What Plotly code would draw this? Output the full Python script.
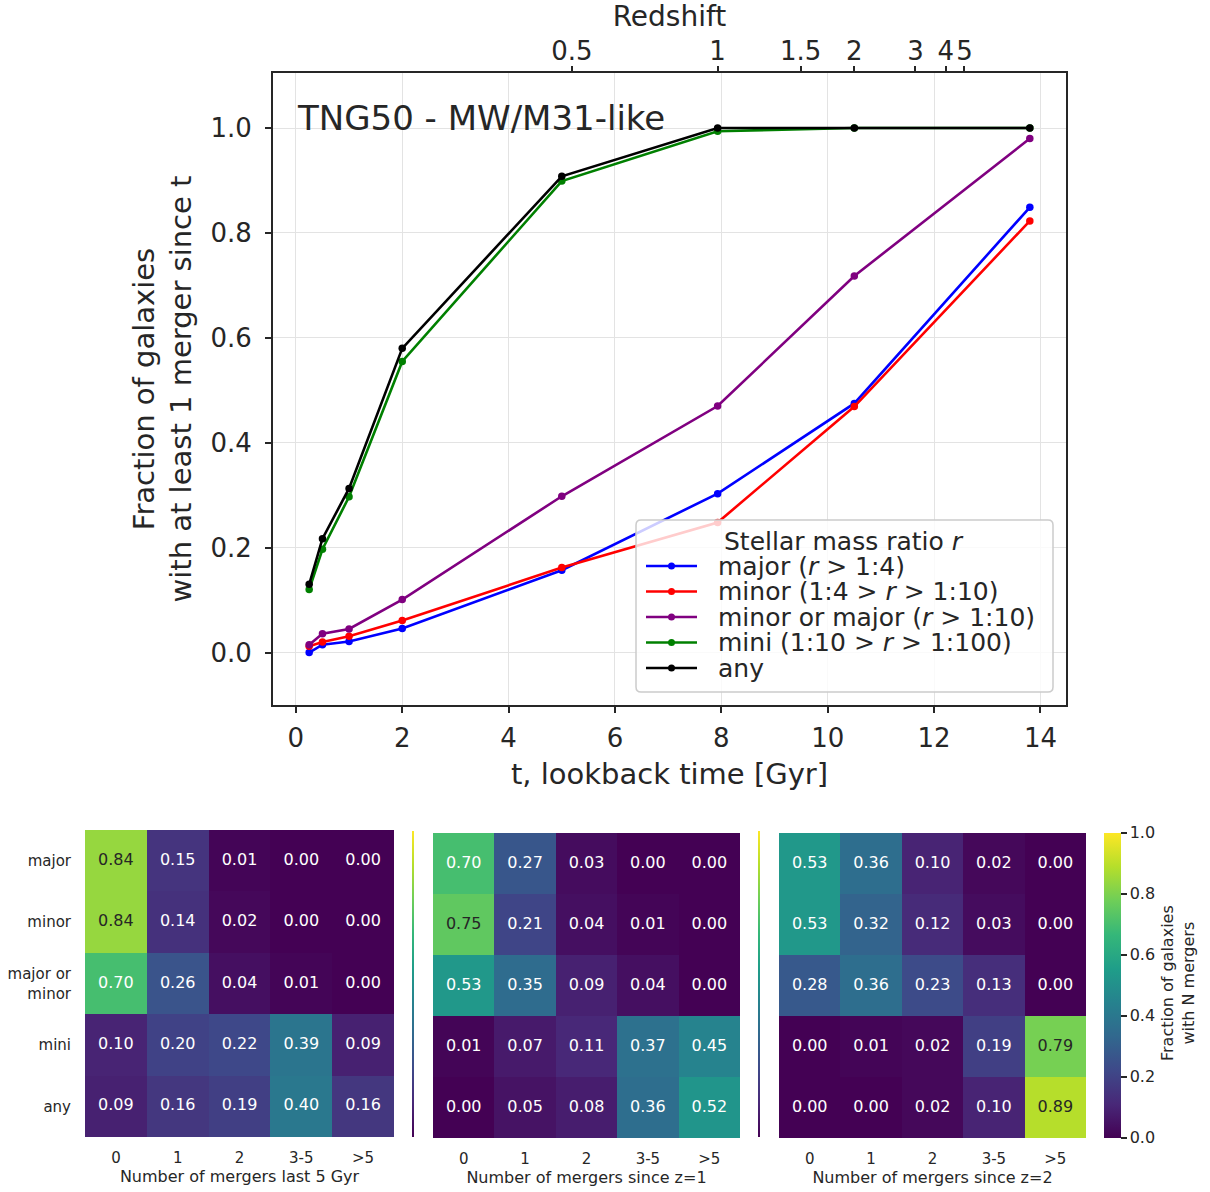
import plotly.graph_objects as go

# ---------------- data ----------------
lookback_t = [0.25, 0.5, 1.0, 2.0, 5.0, 7.93, 10.5, 13.8]
series_names = ["major (<i>r</i> > 1:4)", "minor (1:4 > <i>r</i> > 1:10)",
                "minor or major (<i>r</i> > 1:10)", "mini (1:10 > <i>r</i> > 1:100)", "any"]
series_colors = ["#0000ff", "#ff0000", "#800080", "#008000", "#000000"]
frac_major = [0.0, 0.015, 0.021, 0.046, 0.157, 0.303, 0.475, 0.849]
frac_minor = [0.012, 0.020, 0.031, 0.061, 0.162, 0.248, 0.469, 0.823]
frac_minor_or_major = [0.015, 0.036, 0.045, 0.101, 0.298, 0.470, 0.718, 0.980]
frac_mini = [0.120, 0.197, 0.297, 0.555, 0.899, 0.994, 1.0, 1.0]
frac_any = [0.130, 0.217, 0.313, 0.580, 0.908, 1.0, 1.0, 1.0]
series_values = [frac_major, frac_minor, frac_minor_or_major, frac_mini, frac_any]

redshift_ticks = ["0.5", "1", "1.5", "2", "3", "4", "5"]
redshift_tick_t = [5.19, 7.93, 9.49, 10.50, 11.65, 12.22, 12.57]

row_labels = ["major", "minor", "major or<br>minor", "mini", "any"]
col_labels = ["0", "1", "2", "3-5", ">5"]
heat_last5 = [[0.84, 0.15, 0.01, 0.00, 0.00],
              [0.84, 0.14, 0.02, 0.00, 0.00],
              [0.70, 0.26, 0.04, 0.01, 0.00],
              [0.10, 0.20, 0.22, 0.39, 0.09],
              [0.09, 0.16, 0.19, 0.40, 0.16]]
heat_z1 = [[0.70, 0.27, 0.03, 0.00, 0.00],
           [0.75, 0.21, 0.04, 0.01, 0.00],
           [0.53, 0.35, 0.09, 0.04, 0.00],
           [0.01, 0.07, 0.11, 0.37, 0.45],
           [0.00, 0.05, 0.08, 0.36, 0.52]]
heat_z2 = [[0.53, 0.36, 0.10, 0.02, 0.00],
           [0.53, 0.32, 0.12, 0.03, 0.00],
           [0.28, 0.36, 0.23, 0.13, 0.00],
           [0.00, 0.01, 0.02, 0.19, 0.79],
           [0.00, 0.00, 0.02, 0.10, 0.89]]
heat_titles = ["Number of mergers last 5 Gyr", "Number of mergers since z=1",
               "Number of mergers since z=2"]

# ---------------- helpers ----------------
W, H = 1210, 1192
FONT = "DejaVu Sans"
TXT = "#262626"


def px(x):
    return x / W


def py(y):
    return 1 - y / H


fig = go.Figure()

# top line plot
for name, vals, col in zip(series_names, series_values, series_colors):
    fig.add_trace(go.Scatter(x=lookback_t, y=vals, mode="lines+markers", name=name,
                             line=dict(color=col, width=2.6),
                             marker=dict(color=col, size=7.5),
                             xaxis="x", yaxis="y", showlegend=False))
# invisible trace to activate the redshift axis
fig.add_trace(go.Scatter(x=redshift_tick_t, y=[None] * len(redshift_tick_t),
                         xaxis="x2", yaxis="y", showlegend=False, hoverinfo="skip"))

# heatmaps
heat_data = [heat_last5, heat_z1, heat_z2]
heat_dom_x = [(85, 394), (433, 740), (779, 1086)]
heat_dom_y = [(830, 1137), (833, 1138), (833, 1138)]
cbar_x = [411.5, 757.5, 1104]
idx = list(range(5))
for k, z in enumerate(heat_data):
    ax = str(k + 3)
    if k == 2:
        cb = dict(x=px(1104), xanchor="left", xref="paper", y=py(985), yanchor="middle",
                  len=305 / H, lenmode="fraction", thickness=17, outlinewidth=0,
                  ticks="outside", ticklen=6, tickwidth=1.5, tickcolor=TXT,
                  tickvals=[0, 0.2, 0.4, 0.6, 0.8, 1.0], tickformat=".1f",
                  tickfont=dict(size=16, color=TXT, family=FONT), xpad=0, ypad=0)
    else:
        cb = dict(x=px(cbar_x[k]), xanchor="left", xref="paper", y=py(984), yanchor="middle",
                  len=306 / H, lenmode="fraction", thickness=1.5, outlinewidth=0,
                  ticks="", showticklabels=False, xpad=0, ypad=0)
    fig.add_trace(go.Heatmap(z=z, x=idx, y=idx, colorscale="Viridis", zmin=0, zmax=1,
                             xaxis="x" + ax, yaxis="y" + ax, colorbar=cb, showscale=True,
                             hoverinfo="skip"))
    tx, ty, tt, tc = [], [], [], []
    for r in range(5):
        for c in range(5):
            v = z[r][c]
            tx.append(c)
            ty.append(r)
            tt.append(f"{v:.2f}")
            tc.append(TXT if v > 0.72 else "white")
    fig.add_trace(go.Scatter(x=tx, y=ty, text=tt, mode="text",
                             textfont=dict(size=16, color=tc, family=FONT),
                             xaxis="x" + ax, yaxis="y" + ax, showlegend=False,
                             hoverinfo="skip"))

layout = dict(
    width=W, height=H, margin=dict(l=0, r=0, t=0, b=0),
    paper_bgcolor="white", plot_bgcolor="white",
    font=dict(family=FONT, color=TXT),
    showlegend=False,
    xaxis=dict(domain=[px(273), px(1066)], anchor="y", range=[-0.43, 14.48],
               tickvals=[0, 2, 4, 6, 8, 10, 12, 14], ticks="outside", ticklen=6,
               tickwidth=1.5, tickcolor=TXT, tickfont=dict(size=26, color=TXT),
               showline=True, linecolor=TXT, linewidth=2, mirror=True,
               showgrid=True, gridcolor="#e3e3e3", gridwidth=1, zeroline=False,
               ticklabelstandoff=3, automargin=False,
               title=dict(text="t, lookback time [Gyr]", font=dict(size=29, color=TXT),
                          standoff=11)),
    xaxis2=dict(overlaying="x", side="top", anchor="y", range=[-0.43, 14.48],
                tickvals=redshift_tick_t, ticktext=redshift_ticks, ticks="outside",
                ticklen=6, tickwidth=1.5, tickcolor=TXT,
                tickfont=dict(size=26, color=TXT), showgrid=False, showline=False,
                zeroline=False, automargin=False, ticklabelstandoff=-4,
                title=dict(text="Redshift", font=dict(size=28, color=TXT), standoff=14)),
    yaxis=dict(domain=[py(705), py(73)], anchor="x", range=[-0.1, 1.105],
               tickvals=[0, 0.2, 0.4, 0.6, 0.8, 1.0], tickformat=".1f",
               ticks="outside", ticklen=6, tickwidth=1.5, tickcolor=TXT,
               tickfont=dict(size=26, color=TXT), showline=True, linecolor=TXT,
               linewidth=2, mirror=True, showgrid=True, gridcolor="#e3e3e3",
               gridwidth=1, zeroline=False, automargin=False, ticklabelstandoff=8,
               title=dict(text="Fraction of galaxies<br>with at least 1 merger since t",
                          font=dict(size=29, color=TXT), standoff=10)),
)
for k in range(3):
    ax = str(k + 3)
    x0, x1 = heat_dom_x[k]
    y0, y1 = heat_dom_y[k]
    layout["xaxis" + ax] = dict(domain=[px(x0), px(x1)], anchor="y" + ax,
                                range=[-0.5, 4.5], tickvals=idx, ticktext=col_labels,
                                ticks="", showgrid=False, zeroline=False, showline=False,
                                tickfont=dict(size=15, color=TXT), automargin=False,
                                ticklabelstandoff=10,
                                title=dict(text=heat_titles[k],
                                           font=dict(size=16, color=TXT), standoff=2))
    layout["yaxis" + ax] = dict(domain=[py(y1), py(y0)], anchor="x" + ax,
                                range=[4.5, -0.5], tickvals=idx,
                                ticktext=row_labels if k == 0 else [""] * 5,
                                showticklabels=(k == 0),
                                ticks="", showgrid=False, zeroline=False, showline=False,
                                tickfont=dict(size=15, color=TXT), automargin=False,
                                ticklabelstandoff=13)
fig.update_layout(**layout)

# title annotation
annotations = [dict(text="TNG50 - MW/M31-like", x=px(295), y=py(118), xref="paper",
                    yref="paper", xanchor="left", yanchor="middle", showarrow=False,
                    font=dict(size=34, color=TXT))]
# colorbar title
annotations.append(dict(text="Fraction of galaxies<br>with N mergers", x=px(1178),
                        y=py(983), xref="paper", yref="paper", textangle=-90,
                        xanchor="center", yanchor="middle", showarrow=False,
                        font=dict(size=16, color=TXT)))

# manual legend (matplotlib style)
shapes = []
bx0, bx1, by0, by1, rr = 636, 1053, 520, 692, 5
path = (f"M {px(bx0 + rr)},{py(by0)} L {px(bx1 - rr)},{py(by0)} "
        f"Q {px(bx1)},{py(by0)} {px(bx1)},{py(by0 + rr)} L {px(bx1)},{py(by1 - rr)} "
        f"Q {px(bx1)},{py(by1)} {px(bx1 - rr)},{py(by1)} L {px(bx0 + rr)},{py(by1)} "
        f"Q {px(bx0)},{py(by1)} {px(bx0)},{py(by1 - rr)} L {px(bx0)},{py(by0 + rr)} "
        f"Q {px(bx0)},{py(by0)} {px(bx0 + rr)},{py(by0)} Z")
shapes.append(dict(type="path", path=path, xref="paper", yref="paper", layer="above",
                   fillcolor="rgba(255,255,255,0.8)", line=dict(color="#cccccc", width=1.5)))
annotations.append(dict(text="Stellar mass ratio <i>r</i>", x=px(844), y=py(541),
                        xref="paper", yref="paper", xanchor="center", yanchor="middle",
                        showarrow=False, font=dict(size=25, color=TXT)))
entry_y = [566, 591.5, 617, 642.5, 668]
for name, col, ey in zip(series_names, series_colors, entry_y):
    shapes.append(dict(type="line", xref="paper", yref="paper", layer="above",
                       x0=px(646), x1=px(697), y0=py(ey), y1=py(ey),
                       line=dict(color=col, width=2.6)))
    shapes.append(dict(type="circle", xref="paper", yref="paper", layer="above",
                       x0=px(671.5 - 3.5), x1=px(671.5 + 3.5), y0=py(ey + 3.5),
                       y1=py(ey - 3.5), fillcolor=col, line=dict(color=col, width=0)))
    annotations.append(dict(text=name, x=px(716), y=py(ey), xref="paper", yref="paper",
                            xanchor="left", yanchor="middle", showarrow=False,
                            font=dict(size=25, color=TXT)))

fig.update_layout(shapes=shapes, annotations=annotations)
fig.write_html("out.html")
